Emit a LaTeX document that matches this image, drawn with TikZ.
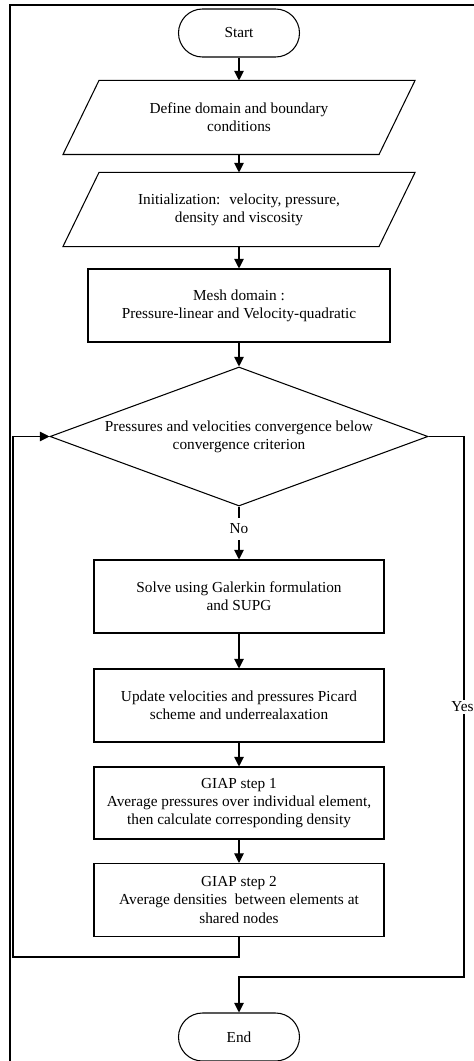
\documentclass[tikz,border=0pt]{standalone}
\usepackage{fontspec}
\setmainfont{Liberation Serif}
\usetikzlibrary{arrows.meta,shapes.geometric}

\begin{document}
\begin{tikzpicture}[->,>={Triangle[length=5.5pt,width=5.5pt]},semithick,
        font=\fontsize{8.7}{10.3}\selectfont,
        term/.style={draw=black,rounded corners=0.48cm,minimum width=2.42cm,minimum height=0.96cm},
        io/.style={minimum width=6.3cm,minimum height=1.46cm,align=center},
        process/.style={draw=black,minimum width=5.8cm,minimum height=1.46cm,align=center},
        decision/.style={shape=diamond,draw=black,aspect=2.7,inner sep=0pt,minimum width=7.56cm,minimum height=2.78cm,align=center}]
                \useasboundingbox (0, 0) rectangle (9.48, -21.22);
                \draw[-,line width=0.9pt] (9.48, -0.1) -- (0.2, -0.1) -- (0.2, -21.22);
                \node[term](start)at(4.78, -0.66){Start};
                \node[io](define)at(4.78, -2.35){Define domain and boundary\\conditions};
                \node[io](init)at(4.78, -4.19){Initialization:~ velocity, pressure,\\density and viscosity};
                \foreach \n in {define,init}
                    \draw[-] ([xshift=0.36cm]\n.north west) -- ([xshift=0.36cm]\n.north east)
                        -- ([xshift=-0.36cm]\n.south east) -- ([xshift=-0.36cm]\n.south west) -- cycle;
                \node[process,minimum width=6.04cm](mesh)at(4.78, -6.11){Mesh domain :\\Pressure-linear and Velocity-quadratic};
                \node[decision](conv)at(4.78, -8.73){Pressures and velocities convergence below\\convergence criterion};
                \node[process](solve)at(4.78, -11.93){Solve using Galerkin formulation\\and SUPG};
                \node[process](update)at(4.78, -14.11){Update velocities and pressures Picard\\scheme and underrealaxation};
                \node[process,minimum height=1.44cm](giap1)at(4.78, -16.06){GIAP step 1\\Average pressures over individual element,\\then calculate corresponding density};
                \node[process](giap2)at(4.78, -18.0){GIAP step 2\\Average densities~ between elements at\\shared nodes};
                \node[term](end)at(4.78, -20.74){End};
                \coordinate (loopcorner) at (0.26, -19.14);
                \coordinate (yescorner) at (9.28, -19.54);
                \path[](start) edge (define)
                (define) edge (init)
                (init) edge (mesh)
                (mesh) edge (conv)
                (conv) edge node[pos=0.42,fill=white]{No} (solve)
                (solve) edge (update)
                (update) edge (giap1)
                (giap1) edge (giap2);
                \draw (giap2.south) |- (loopcorner) |- (conv.west);
                \draw (conv.east) -| node[pos=0.75,fill=white,inner sep=1pt,xshift=-0.03cm]{Yes} (yescorner) -| (end.north);
            \end{tikzpicture}
\end{document}
